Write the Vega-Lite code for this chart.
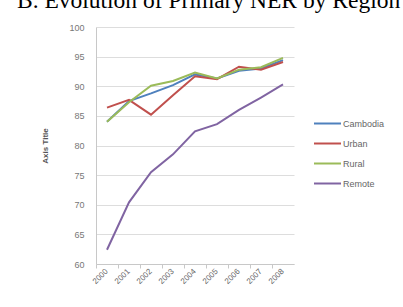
{
  "$schema": "https://vega.github.io/schema/vega-lite/v6.json",
  "autosize": "none",
  "width": 198,
  "height": 237,
  "padding": {"left": 96, "top": 27, "right": 109, "bottom": 43},
  "background": "white",
  "title": {
    "text": "B. Evolution of Primary NER by Region",
    "anchor": "start",
    "frame": "group",
    "font": "Liberation Serif",
    "fontSize": 23.5,
    "fontWeight": "normal",
    "color": "#000000",
    "baseline": "alphabetic",
    "offset": 0,
    "dx": -79,
    "dy": 8
  },
  "data": {
    "values": [
      {"year": "2000", "region": "Cambodia", "value": 84.0},
      {"year": "2001", "region": "Cambodia", "value": 87.5},
      {"year": "2002", "region": "Cambodia", "value": 88.8},
      {"year": "2003", "region": "Cambodia", "value": 90.2},
      {"year": "2004", "region": "Cambodia", "value": 92.0},
      {"year": "2005", "region": "Cambodia", "value": 91.3},
      {"year": "2006", "region": "Cambodia", "value": 92.6},
      {"year": "2007", "region": "Cambodia", "value": 93.0},
      {"year": "2008", "region": "Cambodia", "value": 94.4},
      {"year": "2000", "region": "Urban", "value": 86.4},
      {"year": "2001", "region": "Urban", "value": 87.7},
      {"year": "2002", "region": "Urban", "value": 85.2},
      {"year": "2003", "region": "Urban", "value": 88.5},
      {"year": "2004", "region": "Urban", "value": 91.7},
      {"year": "2005", "region": "Urban", "value": 91.2},
      {"year": "2006", "region": "Urban", "value": 93.3},
      {"year": "2007", "region": "Urban", "value": 92.8},
      {"year": "2008", "region": "Urban", "value": 94.1},
      {"year": "2000", "region": "Rural", "value": 84.0},
      {"year": "2001", "region": "Rural", "value": 87.3},
      {"year": "2002", "region": "Rural", "value": 90.1},
      {"year": "2003", "region": "Rural", "value": 90.9},
      {"year": "2004", "region": "Rural", "value": 92.3},
      {"year": "2005", "region": "Rural", "value": 91.3},
      {"year": "2006", "region": "Rural", "value": 92.8},
      {"year": "2007", "region": "Rural", "value": 93.2},
      {"year": "2008", "region": "Rural", "value": 94.8},
      {"year": "2000", "region": "Remote", "value": 62.4},
      {"year": "2001", "region": "Remote", "value": 70.4},
      {"year": "2002", "region": "Remote", "value": 75.5},
      {"year": "2003", "region": "Remote", "value": 78.5},
      {"year": "2004", "region": "Remote", "value": 82.4},
      {"year": "2005", "region": "Remote", "value": 83.6},
      {"year": "2006", "region": "Remote", "value": 86.0},
      {"year": "2007", "region": "Remote", "value": 88.1},
      {"year": "2008", "region": "Remote", "value": 90.3}
    ]
  },
  "mark": {"type": "line", "strokeWidth": 2},
  "encoding": {
    "x": {
      "field": "year",
      "type": "ordinal",
      "scale": {"type": "band", "paddingInner": 0, "paddingOuter": 0},
      "bandPosition": 0.5,
      "axis": {
        "title": null,
        "labelAngle": -45,
        "labelAlign": "right",
        "labelBaseline": "middle",
        "labelFont": "Liberation Sans",
        "labelFontSize": 8,
        "labelColor": "#666666",
        "labelPadding": 2,
        "bandPosition": 0,
        "tickColor": "#c8c8c8",
        "tickSize": 4,
        "domainColor": "#c8c8c8",
        "grid": false
      }
    },
    "y": {
      "field": "value",
      "type": "quantitative",
      "scale": {"domain": [60, 100], "nice": false, "zero": false},
      "axis": {
        "title": "Axis Title",
        "titleFont": "Liberation Sans",
        "titleFontSize": 8,
        "titleFontWeight": "bold",
        "titleColor": "#555555",
        "titlePadding": 19,
        "values": [60, 65, 70, 75, 80, 85, 90, 95, 100],
        "labelFont": "Liberation Sans",
        "labelFontSize": 9,
        "labelColor": "#777777",
        "labelPadding": 12,
        "ticks": false,
        "domainColor": "#c8c8c8",
        "gridColor": "#dddddd"
      }
    },
    "color": {
      "field": "region",
      "type": "nominal",
      "scale": {
        "domain": ["Cambodia", "Urban", "Rural", "Remote"],
        "range": ["#4F81BD", "#C0504D", "#9BBB59", "#8064A2"]
      },
      "legend": {
        "title": null,
        "orient": "none",
        "legendX": 217,
        "legendY": 82,
        "symbolType": "stroke",
        "symbolSize": 729,
        "symbolStrokeWidth": 2,
        "labelFont": "Liberation Sans",
        "labelFontSize": 9,
        "labelColor": "#666666",
        "labelOffset": 1,
        "rowPadding": -3
      }
    }
  },
  "config": {"view": {"stroke": null}}
}
